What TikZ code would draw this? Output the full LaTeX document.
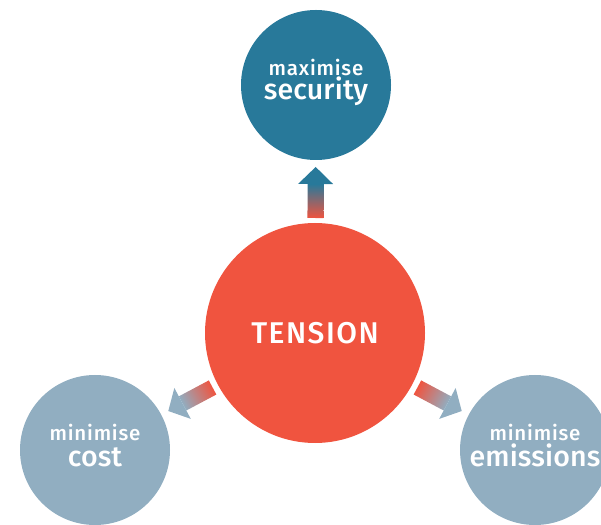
\documentclass[tikz,border=0pt]{standalone}
\usepackage{fontspec}
\setmainfont{Fira Sans}[BoldFont={Fira Sans Medium}]
\usetikzlibrary{calc}
\definecolor{tred}{HTML}{F0543F}
\definecolor{tteal}{HTML}{28799A}
\definecolor{tgrey}{HTML}{91AEC1}
\tikzset{
  goal/.style={circle, minimum size=150pt, inner sep=0pt},
  core/.style={circle, minimum size=220pt, inner sep=0pt, fill=tred},
  small/.style={text=white, anchor=base, inner sep=0pt, font=\bfseries\fontsize{20.5}{22}\selectfont\addfontfeatures{LetterSpace=4}},
  big/.style={text=white, anchor=base, inner sep=0pt, font=\bfseries\fontsize{28.5}{30}\selectfont\addfontfeatures{LetterSpace=0.5}},
}
\newcommand{\gradarrow}[5]{% tail, tip, headcolor, shading angle, base name
  \coordinate (#5) at ($(#1)!34pt!(#2)$);
  \shade[top color=#3, bottom color=tred, shading angle=#4]
    ($(#1)!8pt!90:(#2)$) -- ($(#5)!8pt!-90:(#1)$) -- ($(#5)!8pt!90:(#1)$) -- ($(#1)!8pt!-90:(#2)$) -- cycle;
  \fill[#3] ($(#5)!17.5pt!90:(#2)$) -- (#2) -- ($(#5)!17.5pt!-90:(#2)$) -- cycle;
}
\begin{document}
\begin{tikzpicture}[x=1pt,y=1pt]
\useasboundingbox (0,0) rectangle (601,524);
\node[core] (tension) at (315,191) {};
\node[goal, fill=tteal] (sec) at (316,439) {};
\node[goal, fill=tgrey] (cost) at (95,74) {};
\node[goal, fill=tgrey] (emis) at (535,74) {};
\node[text=white, font=\bfseries\fontsize{30}{32}\selectfont\addfontfeatures{LetterSpace=5}] (tlabel) at (tension) {TENSION};
\node[small] (s1) at ($(sec)+(0,9)$) {maximise};
\node[big] (s2) at ($(sec)+(0,-15)$) {security};
\node[small] (c1) at ($(cost)+(0,10)$) {minimise};
\node[big] (c2) at ($(cost)+(0,-16)$) {cost};
\node[small] (e1) at ($(emis)+(0,10)$) {minimise};
\node[big] (e2) at ($(emis)+(0,-16)$) {emissions};
\coordinate (ua) at ($(tension)!115pt!(sec)$);
\coordinate (ub) at ($(sec)!82pt!(tension)$);
\coordinate (la) at ($(tension)!116pt!(cost)$);
\coordinate (lb) at ($(cost)!83pt!(tension)$);
\coordinate (ra) at ($(tension)!116pt!(emis)$);
\coordinate (rb) at ($(emis)!83pt!(tension)$);
\gradarrow{ua}{ub}{tteal}{0}{uhead}
\gradarrow{la}{lb}{tgrey}{118}{lhead}
\gradarrow{ra}{rb}{tgrey}{-118}{rhead}
\end{tikzpicture}
\end{document}
